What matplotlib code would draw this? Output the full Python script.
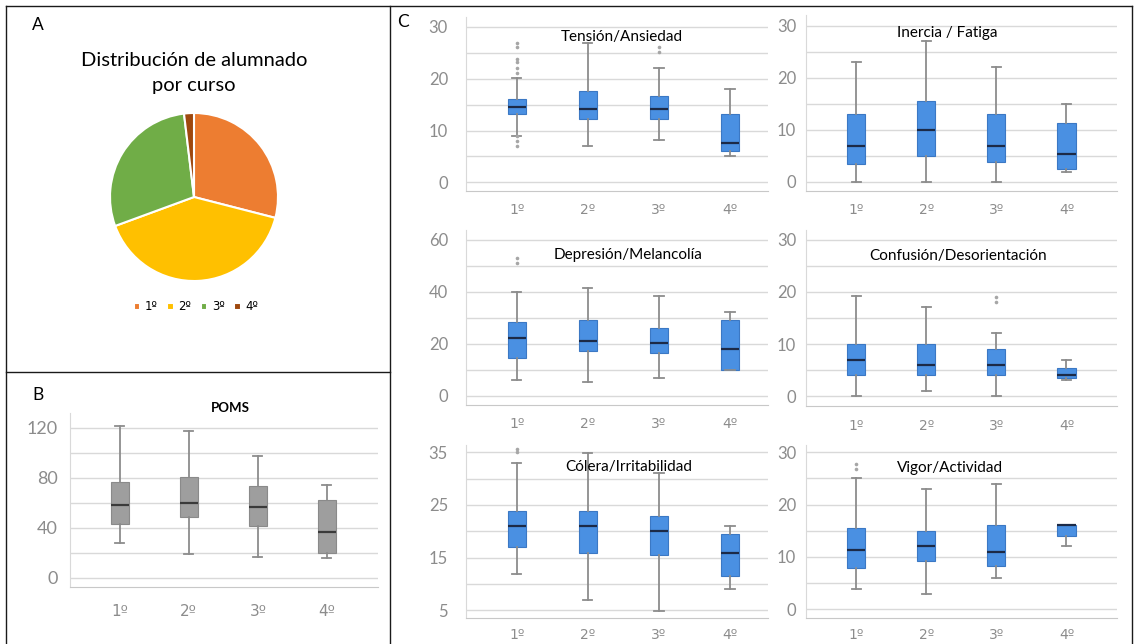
import matplotlib.pyplot as plt
from matplotlib.lines import Line2D

# ---- figure size in pixels ----
W, H = 1135, 644
plt.rcParams['font.family'] = ['Lato', 'DejaVu Sans']
ord_font = ['DejaVu Sans']   # º con subrayado, como en Calibri

# ==================== data ====================
cursos = ['1º', '2º', '3º', '4º']

# A: reparto del alumnado por curso (%)
alumnado = [29.0, 40.4, 28.7, 1.9]
pie_colors = ['#ED7D31', '#FFC000', '#70AD47', '#9E480E']

# each row: whisker low, Q1, median, Q3, whisker high  (one row per curso)
poms = [
    [27.7, 43.0, 58.4, 76.5, 122.0],
    [19.2, 48.8, 60.0, 81.0, 117.9],
    [17.0, 42.0, 56.5, 74.0, 98.0],
    [15.7, 19.7, 36.8, 62.7, 74.4],
]
tension = [
    [9.0, 13.2, 14.6, 16.0, 20.1],
    [7.1, 12.2, 14.2, 17.6, 26.8],
    [8.1, 12.2, 14.2, 16.6, 22.1],
    [5.1, 6.1, 7.6, 13.1, 18.1],
]
tension_out = [[26.9, 26.1, 23.8, 23.2, 22.1, 21.1, 8.9, 8.0, 7.1], [], [26.1, 25.1], []]
fatiga = [
    [0.0, 3.4, 6.9, 13.0, 23.0],
    [0.0, 5.0, 9.9, 15.6, 27.0],
    [0.0, 3.9, 6.9, 13.0, 22.0],
    [1.9, 2.4, 5.4, 11.3, 15.0],
]
fatiga_out = [[], [], [], []]
depresion = [
    [6.0, 14.6, 22.1, 28.2, 40.0],
    [5.1, 17.2, 21.0, 29.1, 41.5],
    [6.9, 16.5, 20.1, 26.2, 38.3],
    [9.9, 9.9, 17.9, 29.1, 32.3],
]
depresion_out = [[53.1, 51.2], [], [], []]
confusion = [
    [0.0, 4.0, 7.0, 10.0, 19.2],
    [1.0, 4.0, 6.0, 10.0, 17.2],
    [0.0, 4.0, 6.0, 9.0, 12.2],
    [3.0, 3.5, 4.0, 5.4, 7.0],
]
confusion_out = [[], [], [19.0, 18.1], []]
colera = [
    [11.9, 17.0, 21.0, 23.9, 32.9],
    [7.0, 15.9, 21.0, 23.9, 34.9],
    [4.9, 15.4, 20.0, 22.9, 31.0],
    [9.0, 11.4, 15.9, 19.4, 21.0],
]
colera_out = [[35.6, 35.0], [], [], []]
vigor = [
    [3.9, 7.8, 11.3, 15.5, 25.0],
    [2.9, 9.3, 12.0, 15.0, 23.0],
    [5.9, 8.3, 10.9, 16.0, 23.9],
    [12.0, 13.9, 16.0, 16.0, 16.0],
]
vigor_out = [[27.7, 26.9], [], [], []]

# ==================== styles ====================
grid_color = '#d9d9d9'
tick_color = '#8c8c8c'
whisker_color = '#8c8c8c'

fig = plt.figure(figsize=(W / 100, H / 100), dpi=100)


def px_axes(l, t, r, b):
    """axes from pixel box (left, top, right, bottom)"""
    return fig.add_axes([l / W, 1 - b / H, (r - l) / W, (b - t) / H])


def box_panel(ax, rows, fliers, ylim, xlim, ticks, grid, title=None, title_xy=None,
              face='#4a90e2', edge='#3b78c4', median='#1c2a47', ypad=8, xpad=6, tsize=12):
    stats = []
    for row, fl in zip(rows, fliers):
        lo, q1, med, q3, hi = row
        stats.append(dict(whislo=lo, q1=q1, med=med, q3=q3, whishi=hi, fliers=fl))
    ax.bxp(stats, positions=range(1, 5), widths=0.26, capwidths=0.13,
           patch_artist=True, showfliers=True,
           boxprops=dict(facecolor=face, edgecolor=edge, linewidth=0.8),
           medianprops=dict(color=median, linewidth=1.6),
           whiskerprops=dict(color=whisker_color, linewidth=1.3),
           capprops=dict(color=whisker_color, linewidth=1.3),
           flierprops=dict(marker='o', markersize=2.6, markerfacecolor='#a6a6a6',
                           markeredgecolor='none'))
    ax.set_xlim(xlim)
    ax.set_ylim(ylim)
    ax.set_xticks(range(1, 5))
    ax.set_xticklabels(cursos, family=ord_font)
    ax.set_yticks(ticks)
    ax.set_yticks(grid, minor=True)
    ax.set_axisbelow(True)
    ax.grid(True, which='both', axis='y', color=grid_color, linewidth=1.0)
    ax.tick_params(axis='both', which='both', length=0, labelcolor=tick_color, labelsize=tsize)
    ax.tick_params(axis='y', pad=ypad)
    ax.tick_params(axis='x', pad=xpad, labelsize=tsize - 2)
    for s in ['top', 'right']:
        ax.spines[s].set_visible(False)
    ax.spines['left'].set_color(grid_color)
    ax.spines['bottom'].set_color('#c8c8c8')
    ax.set_facecolor('none')
    if title:
        fig.text(title_xy[0] / W, 1 - title_xy[1] / H, title, ha='center', va='center',
                 fontsize=11, color='black')


# ---- A: pie ----
ax_pie = px_axes(110, 113, 278, 281)
ax_pie.pie(alumnado, colors=pie_colors, startangle=90, counterclock=False,
           wedgeprops=dict(edgecolor='white', linewidth=1.5))
ax_pie.set_xlim(-1, 1)
ax_pie.set_ylim(-1, 1)
ax_pie.legend(cursos, ncol=4, loc='center', bbox_to_anchor=(196 / W, 1 - 307 / H),
              bbox_transform=fig.transFigure, frameon=False, prop=dict(family=ord_font, size=8.5),
              handlelength=0.55, handleheight=0.55, handletextpad=0.4, columnspacing=0.8)
fig.text(194 / W, 1 - 73 / H, 'Distribución de alumnado\npor curso', ha='center', va='center',
         fontsize=14.5, linespacing=1.6)

# ---- B: POMS ----
ax_b = px_axes(70, 413, 378, 587)
box_panel(ax_b, poms, [[], [], [], []], (-7.2, 132), (0.28, 4.74),
          [0, 40, 80, 120], [20, 60, 100],
          face='#9e9e9e', edge='#8a8a8a', median='#3a3a3a', ypad=9, xpad=12, tsize=13)
fig.text(230 / W, 1 - 408 / H, 'POMS', ha='center', va='center', fontsize=9.5,
         fontweight='bold')

# ---- C: subescalas ----
left_x = (0.286, 4.535)
right_x = (0.286, 4.72)
box_panel(px_axes(466, 17, 768, 191), tension, tension_out, (-1.67, 31.9), left_x,
          [0, 10, 20, 30], [5, 15, 25], 'Tensión/Ansiedad', (622, 37), ypad=13, xpad=9)
box_panel(px_axes(806, 15, 1117, 191), fatiga, fatiga_out, (-1.73, 32.05), right_x,
          [0, 10, 20, 30], [5, 15, 25], 'Inercia / Fatiga', (947, 33), ypad=7, xpad=9)
box_panel(px_axes(466, 230, 768, 405), depresion, depresion_out, (-3.6, 63.7), left_x,
          [0, 20, 40, 60], [10, 30, 50], 'Depresión/Melancolía', (628, 255), ypad=13, xpad=9)
box_panel(px_axes(806, 230, 1117, 406), confusion, confusion_out, (-1.9, 31.9), right_x,
          [0, 10, 20, 30], [5, 15, 25], 'Confusión/Desorientación', (958, 256), ypad=7, xpad=9)
box_panel(px_axes(466, 445, 768, 618), colera, colera_out, (3.5, 36.4), left_x,
          [5, 15, 25, 35], [10, 20, 30], 'Cólera/Irritabilidad', (629, 467), ypad=13, xpad=7)
box_panel(px_axes(806, 445, 1117, 618), vigor, vigor_out, (-1.7, 31.4), right_x,
          [0, 10, 20, 30], [5, 15, 25], 'Vigor/Actividad', (950, 468), ypad=7, xpad=7)

# ---- panel letters ----
for letter, x, y in [('A', 38, 25), ('B', 38, 395), ('C', 403, 22)]:
    fig.text(x / W, 1 - y / H, letter, ha='center', va='center', fontsize=12.5)

# ---- table borders ----
for x1, y1, x2, y2 in [(6, 6, 1132, 6), (6, 6, 6, 644), (390, 6, 390, 644),
                       (1132, 6, 1132, 644), (6, 372, 390, 372)]:
    fig.add_artist(Line2D([x1 / W, x2 / W], [1 - y1 / H, 1 - y2 / H], color='#1a1a1a',
                          linewidth=1.0, transform=fig.transFigure))

fig.savefig('out.png', dpi=100, facecolor='white')
